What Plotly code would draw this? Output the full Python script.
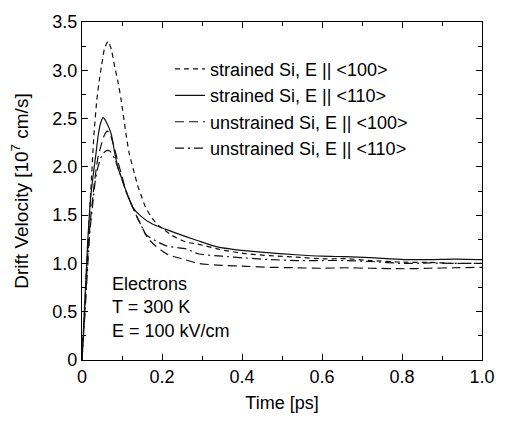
import plotly.graph_objects as go

# ---- data ----
t_s100 = [0, 0.007, 0.014, 0.022, 0.03, 0.037, 0.044, 0.049, 0.056, 0.065, 0.073, 0.082, 0.09, 0.098,
          0.11, 0.118, 0.128, 0.139, 0.15, 0.159, 0.175, 0.192, 0.225, 0.261, 0.29, 0.35, 0.412, 0.47,
          0.535, 0.608, 0.658, 0.72, 0.805, 0.87, 0.93, 1.0]
v_s100 = [0, 0.55, 1.15, 1.75, 2.34, 2.69, 2.92, 3.05, 3.22, 3.30, 3.22, 3.03, 2.88, 2.69,
          2.34, 2.14, 1.98, 1.81, 1.68, 1.58, 1.47, 1.39, 1.29, 1.22, 1.20, 1.14, 1.10, 1.08,
          1.065, 1.047, 1.05, 1.03, 1.013, 1.01, 1.0, 1.0]

t_s110 = [0, 0.007, 0.014, 0.022, 0.03, 0.035, 0.041, 0.047, 0.053, 0.06, 0.073, 0.082, 0.09, 0.1,
          0.11, 0.127, 0.147, 0.175, 0.208, 0.265, 0.29, 0.331, 0.37, 0.412, 0.47, 0.535, 0.6,
          0.658, 0.72, 0.805, 0.87, 0.93, 1.0]
v_s110 = [0, 0.6, 1.2, 1.7, 1.98, 2.14, 2.34, 2.46, 2.51, 2.47, 2.34, 2.14, 1.99, 1.87,
          1.75, 1.58, 1.49, 1.41, 1.355, 1.27, 1.235, 1.18, 1.15, 1.13, 1.11, 1.09, 1.075,
          1.07, 1.06, 1.04, 1.04, 1.045, 1.04]

t_u100 = [0, 0.007, 0.014, 0.02, 0.03, 0.04, 0.049, 0.056, 0.063, 0.07, 0.078, 0.09, 0.1, 0.11,
          0.127, 0.14, 0.151, 0.163, 0.184, 0.216, 0.257, 0.29, 0.35, 0.412, 0.47, 0.535, 0.6,
          0.658, 0.72, 0.805, 0.87, 0.93, 1.0]
v_u100 = [0, 0.5, 1.05, 1.4, 1.8, 2.1, 2.24, 2.33, 2.37, 2.34, 2.24, 2.05, 1.9, 1.75,
          1.58, 1.46, 1.37, 1.27, 1.18, 1.09, 1.04, 1.00, 0.98, 0.97, 0.96, 0.955, 0.95,
          0.955, 0.95, 0.945, 0.95, 0.955, 0.96]

t_u110 = [0, 0.007, 0.014, 0.02, 0.027, 0.033, 0.04, 0.05, 0.058, 0.065, 0.073, 0.082, 0.09, 0.1,
          0.11, 0.127, 0.14, 0.15, 0.159, 0.184, 0.212, 0.261, 0.29, 0.35, 0.412, 0.47, 0.535,
          0.6, 0.658, 0.72, 0.805, 0.87, 0.93, 1.0]
v_u110 = [0, 0.45, 0.95, 1.34, 1.62, 1.85, 2.0, 2.12, 2.16, 2.17, 2.15, 2.08, 1.99, 1.87,
          1.75, 1.58, 1.46, 1.38, 1.30, 1.235, 1.18, 1.15, 1.10, 1.075, 1.055, 1.04, 1.03,
          1.03, 1.03, 1.02, 1.00, 1.005, 1.0, 1.0]

series_names = ["strained Si, E || &lt;100&gt;", "strained Si, E || &lt;110&gt;",
                "unstrained Si, E || &lt;100&gt;", "unstrained Si, E || &lt;110&gt;"]

x_tickvals = [0, 0.2, 0.4, 0.6, 0.8, 1.0]
x_ticktext = ["0", "0.2", "0.4", "0.6", "0.8", "1.0"]
y_tickvals = [0, 0.5, 1.0, 1.5, 2.0, 2.5, 3.0, 3.5]
y_ticktext = ["0", "0.5", "1.0", "1.5", "2.0", "2.5", "3.0", "3.5"]

FONT = "Liberation Sans, Arial, sans-serif"
dashes = ["5px,4px", "solid", "9px,5px", "9px,4px,2px,4px"]
data = [(t_s100, v_s100), (t_s110, v_s110), (t_u100, v_u100), (t_u110, v_u110)]

fig = go.Figure()
for (tx, vy), name, d in zip(data, series_names, dashes):
    fig.add_trace(go.Scatter(x=tx, y=vy, mode="lines", name=name,
                             line=dict(color="#111111", width=1.2, dash=d, shape="spline",
                                       smoothing=0.6)))

axis_common = dict(showline=True, linecolor="black", linewidth=1.3, mirror="ticks",
                   ticks="inside", ticklen=6, tickcolor="black", tickwidth=1,
                   showgrid=False, zeroline=False,
                   tickfont=dict(family=FONT, size=18, color="black"))

fig.update_xaxes(range=[0, 1.0], tickvals=x_tickvals, ticktext=x_ticktext,
                 minor=dict(dtick=0.1, ticks="inside", ticklen=4, tickcolor="black"),
                 title=dict(text="Time [ps]", font=dict(family=FONT, size=18, color="black"),
                            standoff=10),
                 **axis_common)
fig.update_yaxes(range=[0, 3.5], tickvals=y_tickvals, ticktext=y_ticktext,
                 minor=dict(dtick=0.25, ticks="inside", ticklen=4, tickcolor="black"),
                 title=dict(text="Drift Velocity [10<sup>7</sup> cm/s]",
                            font=dict(family=FONT, size=19, color="black"), standoff=18),
                 **axis_common)

fig.add_annotation(x=0.07, y=0.54, xref="x", yref="y", xanchor="left", yanchor="middle",
                   align="left", showarrow=False,
                   text="Electrons<br>T = 300 K<br>E = 100 kV/cm",
                   font=dict(family=FONT, size=18, color="black"))

fig.update_layout(
    width=507, height=421,
    margin=dict(l=82, r=17, t=22, b=57),
    paper_bgcolor="white", plot_bgcolor="white",
    font=dict(family=FONT, size=18, color="black"),
    legend=dict(x=0.22, y=0.915, xanchor="left", yanchor="top", bgcolor="rgba(0,0,0,0)",
                font=dict(family=FONT, size=18, color="black"), tracegroupgap=0),
)

fig.write_html("out.html")
